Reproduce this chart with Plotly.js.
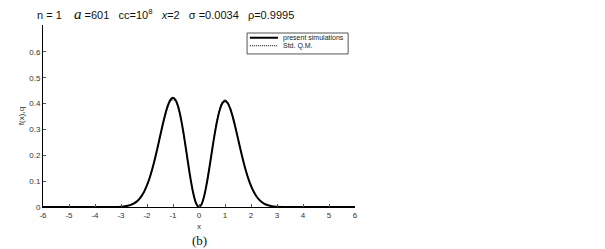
<!DOCTYPE html>
<html>
<head>
<meta charset="utf-8">
<script src="https://cdn.plot.ly/plotly-3.0.1.min.js"></script>
<style>html,body{margin:0;padding:0;background:#fff;}#chart{width:605px;height:249px;}</style>
</head>
<body>
<div id="chart"></div>
<script>
// x positions
const xVals = [-6,-5,-4,-3.5,-3.2,-3.0,-2.9,-2.8,-2.7,-2.6,-2.5,-2.4,-2.3,-2.2,-2.1,-2.0,-1.9,-1.8,-1.7,-1.6,-1.5,-1.4,-1.3,-1.2,-1.1,-1.0,-0.9,-0.8,-0.7,-0.6,-0.5,-0.4,-0.3,-0.2,-0.1,0,
  0.1,0.2,0.3,0.4,0.5,0.6,0.7,0.8,0.9,1.0,1.1,1.2,1.3,1.4,1.5,1.6,1.7,1.8,1.9,2.0,2.1,2.2,2.3,2.4,2.5,2.6,2.7,2.8,2.9,3.0,3.2,3.5,4,5,6];
// present simulations
const simVals = [0,0,0,0.0001,0.0004,0.0013,0.0021,0.0035,0.0057,0.0090,0.0139,0.0208,0.0306,0.0440,0.0616,0.0842,0.1122,0.1458,0.1845,0.2273,0.2724,0.3171,0.3582,0.3919,0.4145,0.4226,0.4139,0.3876,0.3448,0.2885,0.2237,0.1566,0.0945,0.0442,0.0114,0,
  0.0110,0.0428,0.0917,0.1520,0.2171,0.2800,0.3347,0.3762,0.4017,0.4101,0.4023,0.3804,0.3477,0.3078,0.2644,0.2206,0.1791,0.1415,0.1089,0.0817,0.0598,0.0427,0.0297,0.0202,0.0134,0.0087,0.0055,0.0034,0.0021,0.0012,0.0004,0.0001,0,0,0];
// standard quantum mechanics
const qmVals = [0,0,0,0.0001,0.0004,0.0013,0.0021,0.0035,0.0056,0.0088,0.0136,0.0205,0.0301,0.0432,0.0605,0.0827,0.1102,0.1432,0.1812,0.2233,0.2676,0.3115,0.3519,0.3850,0.4072,0.4151,0.4066,0.3808,0.3387,0.2834,0.2197,0.1539,0.0928,0.0434,0.0112,0,
  0.0112,0.0434,0.0928,0.1539,0.2197,0.2834,0.3387,0.3808,0.4066,0.4151,0.4072,0.3850,0.3519,0.3115,0.2676,0.2233,0.1812,0.1432,0.1102,0.0827,0.0605,0.0432,0.0301,0.0205,0.0136,0.0088,0.0056,0.0035,0.0021,0.0013,0.0004,0.0001,0,0,0];
const seriesNames = ['present simulations','Std. Q.M.'];
const xTicks = [-6,-5,-4,-3,-2,-1,0,1,2,3,4,5,6];
const yTicks = [0,0.1,0.2,0.3,0.4,0.5,0.6];
const yTickText = ['0','0.1','0.2','0.3','0.4','0.5','0.6'];

const NB = '\u00A0';
const titleText = 'n = 1' + NB.repeat(4) +
  '<span style="font-family:\'Liberation Serif\';font-size:15px"><i>a</i></span> =601' + NB.repeat(3) +
  'cc=10<sup>8</sup>' + NB.repeat(3) + '<i>x</i>=2' + NB.repeat(3) +
  'σ =0.0034' + NB.repeat(3) + 'ρ=0.9995';

const traces = [
  {x: xVals, y: simVals, name: seriesNames[0], type: 'scatter', mode: 'lines',
   line: {color: '#000', width: 2, shape: 'spline'}},
  {x: xVals, y: qmVals, name: seriesNames[1], type: 'scatter', mode: 'lines',
   line: {color: '#000', width: 1, dash: '1px,1px', shape: 'spline'}}
];

const legFont = {family: 'Liberation Sans, Arial', size: 7, color: '#222'};
const tickFont = {family: 'Liberation Sans, Arial', size: 8, color: '#333'};
const layout = {
  width: 605, height: 249,
  margin: {l: 43, r: 250, t: 25, b: 42, pad: 0},
  paper_bgcolor: '#fff', plot_bgcolor: '#fff',
  showlegend: false,
  xaxis: {range: [-6, 6], tickvals: xTicks, ticktext: xTicks.map(String),
    ticks: 'inside', ticklen: 3, tickcolor: '#555', showline: true, linecolor: '#000', linewidth: 1,
    showgrid: false, zeroline: false, tickfont: tickFont,
    title: {text: 'x', font: {family: 'Liberation Sans, Arial', size: 8, color: '#333'}, standoff: 4}},
  yaxis: {range: [0, 0.704], tickvals: yTicks, ticktext: yTickText,
    ticks: 'inside', ticklen: 3, tickcolor: '#555', showline: true, linecolor: '#000', linewidth: 1,
    showgrid: false, zeroline: false, tickfont: tickFont,
    title: {text: 'f(x),q', font: {family: 'Liberation Sans, Arial', size: 8, color: '#333'}, standoff: 3}},
  title: {text: titleText, x: 37/605, xanchor: 'left', y: 0.94, yanchor: 'middle',
    font: {family: 'Liberation Sans, Arial', size: 11, color: '#111'}},
  shapes: [
    {type: 'rect', xref: 'paper', yref: 'paper', x0: 0.654, x1: 0.978, y0: 0.841, y1: 0.956,
     line: {color: '#555', width: 1}, fillcolor: '#fff'},
    {type: 'line', xref: 'paper', yref: 'paper', x0: 0.663, x1: 0.753, y0: 0.930, y1: 0.930,
     line: {color: '#000', width: 2}},
    {type: 'line', xref: 'paper', yref: 'paper', x0: 0.663, x1: 0.753, y0: 0.886, y1: 0.886,
     line: {color: '#000', width: 1, dash: '1px,1px'}}
  ],
  annotations: [
    {text: seriesNames[0], xref: 'paper', yref: 'paper', x: 0.763, y: 0.930, xanchor: 'left', yanchor: 'middle',
     showarrow: false, font: legFont},
    {text: seriesNames[1], xref: 'paper', yref: 'paper', x: 0.763, y: 0.886, xanchor: 'left', yanchor: 'middle',
     showarrow: false, font: legFont},
    {text: '(b)', xref: 'paper', yref: 'paper', x: 0.5, y: -0.183, xanchor: 'center', yanchor: 'middle',
     showarrow: false, font: {family: 'Liberation Serif, Times New Roman', size: 13, color: '#111'}}
  ]
};

Plotly.newPlot('chart', traces, layout, {displayModeBar: false, staticPlot: true});
</script>
</body>
</html>
